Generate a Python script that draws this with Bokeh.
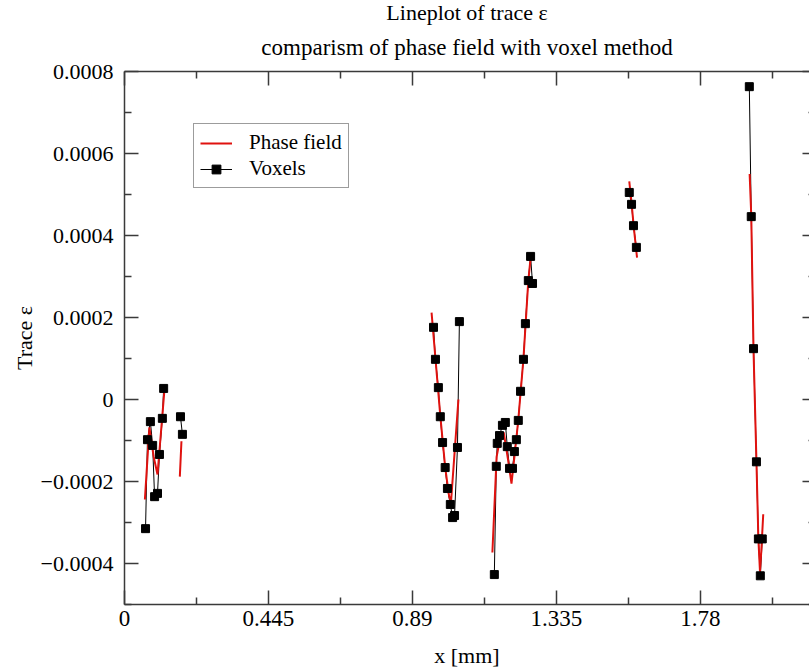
import math
from bokeh.plotting import figure
from bokeh.models import (LinearAxis, FixedTicker, Title, Legend, LegendItem, Range1d,
                          CustomLabelingPolicy)
from bokeh.embed import file_html
from bokeh.resources import INLINE

NaN = float("nan")

# Voxel method (black squares), NaN separates segments
voxel_x = [0.065, 0.071, 0.080, 0.087, 0.093, 0.102, 0.108, 0.117, 0.121, NaN,
           0.173, 0.179, NaN,
           0.955, 0.961, 0.970, 0.976, 0.983, 0.991, 0.998, 1.007, 1.014, 1.020, 1.029, 1.035, NaN,
           1.143, 1.149, 1.152, 1.159, 1.168, 1.177, 1.183, 1.190, 1.199, 1.205, 1.211, 1.217,
           1.224, 1.233, 1.239, 1.248, 1.255, 1.261, NaN,
           1.560, 1.567, 1.573, 1.582, NaN,
           1.931, 1.937, 1.944, 1.953, 1.959, 1.965, 1.971]
voxel_y = [-0.000315, -0.000098, -0.000054, -0.000112, -0.000237, -0.000229, -0.000134, -0.000046, 0.000027, NaN,
           -0.000042, -0.000085, NaN,
           0.000176, 0.000098, 0.000029, -0.000042, -0.000105, -0.000166, -0.000217, -0.000256, -0.000288, -0.000283, -0.000117, 0.000190, NaN,
           -0.000427, -0.000163, -0.000107, -0.000088, -0.000063, -0.000056, -0.000115, -0.000168, -0.000168, -0.000127, -0.000098, -0.000051,
           0.000020, 0.000098, 0.000185, 0.000290, 0.000349, 0.000283, NaN,
           0.000505, 0.000476, 0.000424, 0.000371, NaN,
           0.000763, 0.000446, 0.000124, -0.000152, -0.000340, -0.000430, -0.000340]

# Phase field (red line), NaN separates segments
phase_x = [0.063, 0.077, 0.090, 0.102, 0.124, NaN,
           0.171, 0.176, NaN,
           0.949, 0.961, 0.976, 0.991, 1.003, 1.009, 1.032, NaN,
           1.137, 1.150, 1.162, 1.172, 1.186, 1.196, 1.205, 1.217, 1.233, 1.248, 1.256, NaN,
           1.560, 1.567, 1.574, 1.584, NaN,
           1.932, 1.937, 1.944, 1.953, 1.959, 1.964, 1.968, 1.974]
phase_y = [-0.000244, -0.000068, -0.000139, -0.000183, 0.000029, NaN,
           -0.000188, -0.000102, NaN,
           0.000212, 0.000100, -0.000040, -0.000165, -0.000235, -0.000251, 0.000000, NaN,
           -0.000373, -0.000140, -0.000090, -0.000080, -0.000150, -0.000205, -0.000140, -0.000050, 0.000100, 0.000290, 0.000352, NaN,
           0.000532, 0.000480, 0.000420, 0.000346, NaN,
           0.000550, 0.000450, 0.000120, -0.000150, -0.000340, -0.000420, -0.000370, -0.000280]

x_ticks = [0, 0.445, 0.89, 1.335, 1.78, 2.225]
x_tick_labels = ["0", "0.445", "0.89", "1.335", "1.78", "2.225"]
x_minor = [0.2225, 0.6675, 1.1125, 1.5575, 2.0025]
y_ticks = [-0.0004, -0.0002, 0, 0.0002, 0.0004, 0.0006, 0.0008]
y_tick_labels = ["\u22120.0004", "\u22120.0002", "0", "0.0002", "0.0004", "0.0006", "0.0008"]
y_minor = [-0.0005, -0.0003, -0.0001, 0.0001, 0.0003, 0.0005, 0.0007]

FONT = "Liberation Serif"
AX = "#3a3a3a"

p = figure(width=809, height=670, output_backend="svg", toolbar_location=None,
           x_range=Range1d(0, 2.117), y_range=Range1d(-0.0005, 0.0008),
           x_axis_label="x [mm]", y_axis_label="Trace \u03b5",
           min_border_left=124, min_border_right=0, min_border_top=0, min_border_bottom=0)
p.outline_line_color = None
p.xgrid.visible = False
p.ygrid.visible = False
p.background_fill_color = "white"

no_labels = CustomLabelingPolicy(code="for (const i of indices) { indices.unset(i) }\nreturn indices")

def style(ax, labels=True):
    ax.axis_line_color = AX
    ax.axis_line_width = 1.5
    ax.major_tick_line_color = AX
    ax.minor_tick_line_color = AX
    ax.major_tick_line_width = 1.5
    ax.minor_tick_line_width = 1.5
    ax.major_tick_in = 14
    ax.major_tick_out = 0
    ax.minor_tick_in = 7
    ax.minor_tick_out = 0
    ax.major_label_text_font = FONT
    ax.major_label_text_font_size = "23px"
    ax.major_label_text_color = "black"
    ax.axis_label_text_font = FONT
    ax.axis_label_text_font_size = "22px"
    ax.axis_label_text_font_style = "normal"
    ax.axis_label_text_color = "black"
    if not labels:
        ax.major_label_text_font_size = "0px"
        ax.major_label_standoff = 0
        ax.major_label_policy = no_labels

xt = FixedTicker(ticks=x_ticks, minor_ticks=x_minor)
yt = FixedTicker(ticks=y_ticks, minor_ticks=y_minor)
xo = dict(zip(x_ticks, x_tick_labels))
yo = dict(zip(y_ticks, y_tick_labels))

bx = p.xaxis[0]
bx.ticker = xt
bx.major_label_overrides = xo
style(bx)
bx.major_label_standoff = 6
bx.axis_label_standoff = 14

ly = p.yaxis[0]
ly.ticker = yt
ly.major_label_overrides = yo
style(ly)
ly.major_label_text_font_size = "22px"
ly.major_label_standoff = 11
ly.axis_label_standoff = 1

top = LinearAxis(ticker=xt)
style(top, labels=False)
p.add_layout(top, "above")

right = LinearAxis(ticker=yt)
style(right, labels=False)
right.axis_line_color = None
right.major_tick_in = 7
right.minor_tick_in = 1
p.add_layout(right, "right")

t2 = Title(text="comparism of phase field with voxel method", align="center",
           text_font=FONT, text_font_size="23px", text_font_style="normal",
           text_color="black", standoff=23)
p.add_layout(t2, "above")
t1 = Title(text="Lineplot of trace \u03b5", align="center",
           text_font=FONT, text_font_size="22px", text_font_style="normal",
           text_color="black", standoff=-6)
p.add_layout(t1, "above")

vline = p.line(voxel_x, voxel_y, line_color="black", line_width=1)
pline = p.line(phase_x, phase_y, line_color="#e0120f", line_width=2)
vpts = p.scatter(voxel_x, voxel_y, marker="square", size=8, fill_color="black", line_color="black")

legend = Legend(items=[LegendItem(label="Phase field", renderers=[pline]),
                       LegendItem(label="Voxels", renderers=[vline, vpts])],
                location=(69, 416))
legend.label_text_font = FONT
legend.label_text_font_size = "21px"
legend.label_text_color = "black"
legend.border_line_color = AX
legend.border_line_width = 1
legend.glyph_width = 32
legend.glyph_height = 22
legend.label_height = 22
legend.spacing = 1
legend.padding = 6
legend.margin = 0
legend.label_standoff = 17
p.add_layout(legend, "center")

open("out.html", "w").write(file_html(p, INLINE))
